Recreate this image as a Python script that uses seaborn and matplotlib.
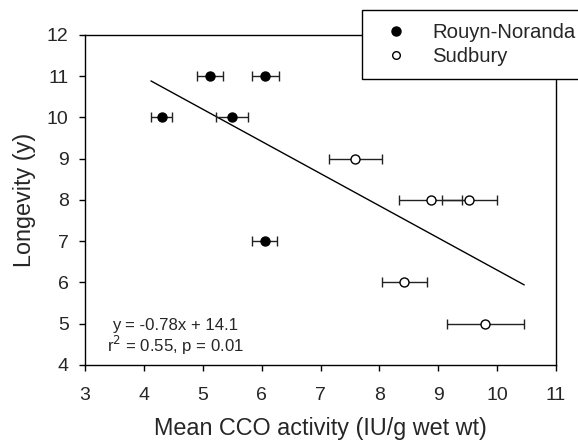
import pandas as pd
import seaborn as sns
import matplotlib.pyplot as plt
from matplotlib.lines import Line2D

# === data ===
rn_cco = [5.13, 6.06, 4.30, 5.49, 6.05]
rn_err = [0.22, 0.23, 0.18, 0.27, 0.21]
rn_longevity = [11, 11, 10, 10, 7]

sud_cco = [7.59, 8.87, 9.53, 8.42, 9.80]
sud_err = [0.45, 0.53, 0.47, 0.38, 0.65]
sud_longevity = [9, 8, 8, 6, 5]

fit_slope = -0.78
fit_intercept = 14.1
fit_x = [4.12, 10.46]

df = pd.DataFrame({
    'cco': rn_cco + sud_cco,
    'err': rn_err + sud_err,
    'longevity': rn_longevity + sud_longevity,
    'site': ['Rouyn-Noranda'] * len(rn_cco) + ['Sudbury'] * len(sud_cco),
})
fit = pd.DataFrame({'x': fit_x})
fit['y'] = fit_slope * fit['x'] + fit_intercept

sns.set_style('ticks')
plt.rcParams['font.family'] = ['Liberation Sans', 'DejaVu Sans']

fig = plt.figure(figsize=(5.78, 4.43), dpi=100)
ax = fig.add_axes([0.1471, 0.1761, 0.8149, 0.7449])

# regression line
sns.lineplot(data=fit, x='x', y='y', color='black', linewidth=1.0, ax=ax)

# horizontal error bars
ax.errorbar(df['cco'], df['longevity'], xerr=df['err'], fmt='none',
            ecolor='#222222', elinewidth=1.0, capsize=3.6, capthick=1.0, zorder=2)

# points
faces = {'Rouyn-Noranda': 'black', 'Sudbury': 'white'}
for site, sub in df.groupby('site'):
    sns.scatterplot(data=sub, x='cco', y='longevity', color=faces[site],
                    edgecolor='black', linewidth=1.0, s=42, ax=ax, zorder=3)

ax.set_xlim(3, 11)
ax.set_ylim(4, 12)
ax.set_xticks(range(3, 12))
ax.set_yticks(range(4, 13))
ax.tick_params(axis='both', labelsize=14, direction='out', length=4,
               width=1, color='black', right=False, top=False)
ax.tick_params(axis='x', pad=12)
ax.tick_params(axis='y', pad=7.8)
for s in ax.spines.values():
    s.set_color('black')
    s.set_linewidth(1.0)
ax.set_xlabel('Mean CCO activity (IU/g wet wt)', fontsize=16.8, labelpad=9)
ax.set_ylabel('Longevity (y)', fontsize=16.8, labelpad=7.5)

# regression statistics
ax.text(4.53, 4.85, 'y = -0.78x + 14.1', fontsize=12.1, ha='center', va='baseline')
ax.text(4.53, 4.32, 'r$^2$ = 0.55, p = 0.01', fontsize=12.1, ha='center', va='baseline')

handles = [
    Line2D([], [], marker='o', linestyle='none', markerfacecolor='black',
           markeredgecolor='black', markersize=6.5, label='Rouyn-Noranda'),
    Line2D([], [], marker='o', linestyle='none', markerfacecolor='white',
           markeredgecolor='black', markersize=5.5, label='Sudbury'),
]
leg = ax.legend(handles=handles, loc='upper left', bbox_to_anchor=(362 / 578, 1 - 10 / 443),
                bbox_transform=fig.transFigure, fontsize=14.6, frameon=True,
                fancybox=False, framealpha=1, edgecolor='black', borderpad=0.65,
                handlelength=2.1, handletextpad=0.7, labelspacing=0.25, borderaxespad=0)
leg.get_frame().set_linewidth(1.0)

plt.savefig('out.png', dpi=100)
